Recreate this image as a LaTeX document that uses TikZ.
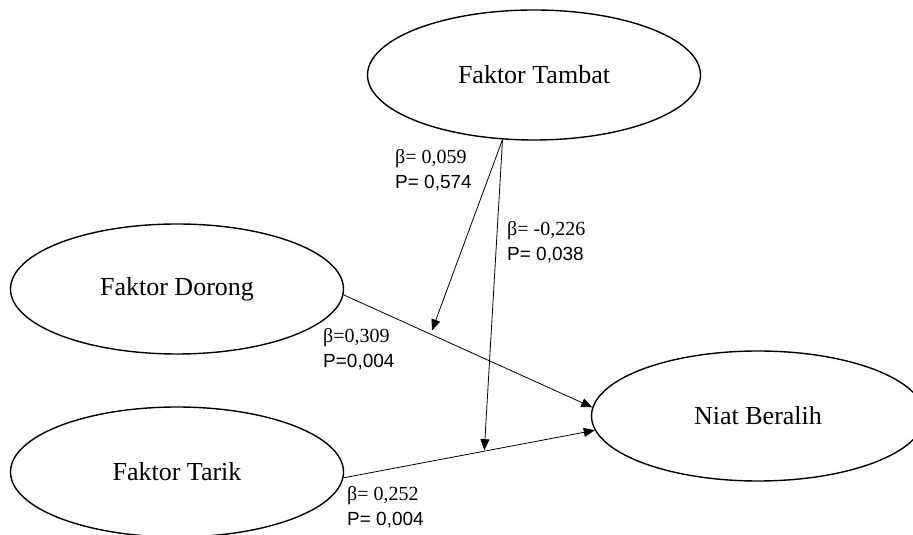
\documentclass[tikz,border=0pt]{standalone}
\usepackage{fontspec}
\setmainfont{Liberation Serif}
\setsansfont{Liberation Sans}
\usetikzlibrary{shapes.geometric,arrows.meta}
\tikzset{construct/.style={
    ellipse, draw, line width=1.4pt,
    minimum width=333pt, minimum height=130pt,
    inner sep=0pt, font=\fontsize{26}{30}\selectfont
  },
  link/.style={line width=.8pt, -{Triangle[length=11pt,width=9pt]}},
  coef/.style={anchor=west, inner sep=0pt, align=left,
    font=\fontsize{20}{25}\selectfont}
}
\newcommand{\pval}[1]{{\sffamily\fontsize{19}{25}\selectfont #1}}

\begin{document}
\begin{tikzpicture}[x=1pt,y=1pt]
    \useasboundingbox (0,0) rectangle (913,535);
    \clip (0,0) rectangle (913,535);

    \node[construct] (tambat) at (534,460) {Faktor Tambat};
    \node[construct] (dorong) at (177,246) {Faktor Dorong};
    \node[construct] (tarik) at (177,63) {Faktor Tarik};
    \node[construct] (niat) at (758,119) {Niat Beralih};

    \draw[link] (dorong.-2) -- coordinate[pos=.35] (onDorong) (niat.177);
    \draw[link] (tarik.-2) -- coordinate[pos=.56] (onTarik) (niat.185);
    \draw[link, shorten >=4pt] (tambat.244) -- (onDorong);
    \draw[link, shorten >=1pt] (tambat.244) -- (onTarik);

    \node[coef] (modDorong) at (395,364.5) {β= 0,059\\\pval{P= 0,574}};
    \node[coef] (modTarik) at (507,292.5) {β= -0,226\\\pval{P= 0,038}};
    \node[coef] (effDorong) at (323,185.5) {β=0,309\\\pval{P=0,004}};
    \node[coef] (effTarik) at (347,27.5) {β= 0,252\\\pval{P= 0,004}};
\end{tikzpicture}
\end{document}
